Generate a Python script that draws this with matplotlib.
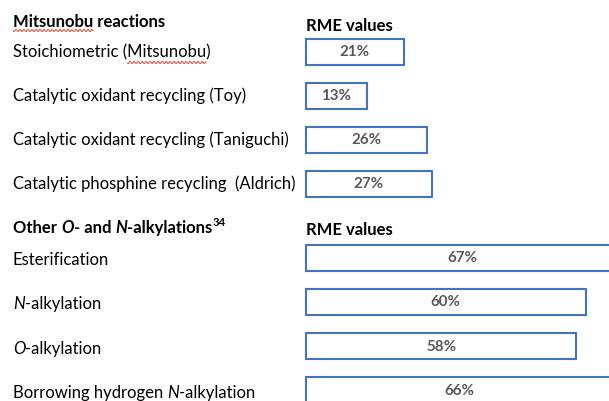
import matplotlib
matplotlib.use("Agg")
import matplotlib.pyplot as plt
import numpy as np

# ---------------- data ----------------
value_header = "RME values"
group1_title = [("Mitsunobu reactions", "normal")]
group1_labels = [
    [("Stoichiometric (Mitsunobu)", "normal")],
    [("Catalytic oxidant recycling (Toy)", "normal")],
    [("Catalytic oxidant recycling (Taniguchi)", "normal")],
    [("Catalytic phosphine recycling  (Aldrich)", "normal")],
]
group1_values = [21, 13, 26, 27]

group2_title = [("Other ", "normal"), ("O", "italic"), ("- and ", "normal"),
                ("N", "italic"), ("-alkylations", "normal"), ("34", "sup")]
group2_labels = [
    [("Esterification", "normal")],
    [("N", "italic"), ("-alkylation", "normal")],
    [("O", "italic"), ("-alkylation", "normal")],
    [("Borrowing hydrogen ", "normal"), ("N", "italic"), ("-alkylation", "normal")],
]
group2_values = [67, 60, 58, 66]

# ---------------- layout ----------------
W, H = 609, 401
FAMILY = ["Lato", "DejaVu Sans"]
EDGE = "#4472C4"
VAL_COLOR = "#595959"
X_TEXT = 13          # px, left of labels
X_BAR0 = 306         # px, where 0 % sits
PX_PER_PCT = 4.66    # px per percent
BAR_H = 26
G1_Y0, G1_STEP = 52, 44.0
G2_Y0, G2_STEP = 257.5, 44.3

fig = plt.figure(figsize=(W / 100, H / 100), dpi=100)
fig.patch.set_facecolor("white")

bax = fig.add_axes([0, 0, 1, 1])
bax.set_xlim(-X_BAR0 / PX_PER_PCT, (W - X_BAR0) / PX_PER_PCT)
bax.set_ylim(H, 0)
bax.axis("off")

tax = fig.add_axes([0, 0, 1, 1])
tax.set_xlim(0, W)
tax.set_ylim(H, 0)
tax.axis("off")

fig.canvas.draw()
R = fig.canvas.get_renderer()


def width(s, **kw):
    t1 = tax.text(0, 0, "|" + s + "|", family=FAMILY, **kw)
    t2 = tax.text(0, 0, "||", family=FAMILY, **kw)
    w = t1.get_window_extent(R).width - t2.get_window_extent(R).width
    t1.remove()
    t2.remove()
    return w


# fit label font size to the reference width of the longest label
ref = width("Catalytic oxidant recycling (Taniguchi)", size=10)
FS = 10 * 276 / ref
refp = width("21%", size=10, weight="bold")
FS_VAL = 10 * 30 / refp


def rich(x, y, pieces, bold=False):
    weight = "bold" if bold else "normal"
    for s, st in pieces:
        if st == "sup":
            kw = dict(size=FS * 0.68, weight=weight, style="normal")
            tax.text(x + 0.5, y - 7, s, ha="left", va="baseline", family=FAMILY, **kw)
        else:
            kw = dict(size=FS, weight=weight, style=st)
            tax.text(x, y, s, ha="left", va="baseline", family=FAMILY, **kw)
        x += width(s, **kw)
    return x


def squiggle(xa, xb, y):
    xs = np.linspace(xa, xb, 200)
    tax.plot(xs, y + 1.0 * np.sin(2 * np.pi * (xs - xa) / 4.0),
             color="#E8412F", lw=0.7, solid_capstyle="butt")


def draw_group(title, labels, values, y0, step, title_base, header_base, lab_off):
    rich(X_TEXT, title_base, title, bold=True)
    tax.text(X_BAR0, header_base, value_header, ha="left", va="baseline",
             family=FAMILY, size=FS, weight="bold")
    ys = [y0 + i * step for i in range(len(values))]
    bax.barh(ys, values, height=BAR_H, left=0, color="white",
             edgecolor=EDGE, linewidth=1.5)
    for lab, v, y in zip(labels, values, ys):
        rich(X_TEXT, y + lab_off, lab)
        bax.text(v / 2, y + 0.5, f"{v}%", ha="center", va="center",
                 family=FAMILY, size=FS_VAL, weight="bold", color=VAL_COLOR)
    return ys


ys1 = draw_group(group1_title, group1_labels, group1_values, G1_Y0, G1_STEP, 27, 31, 5.5)
ys2 = draw_group(group2_title, group2_labels, group2_values, G2_Y0, G2_STEP, 233, 235, 7.5)

# spell-check underlines seen in the reference screenshot
squiggle(X_TEXT, X_TEXT + width("Mitsunobu", size=FS, weight="bold"), 30.5)
a = X_TEXT + width("Stoichiometric (", size=FS)
b = X_TEXT + width("Stoichiometric (Mitsunobu", size=FS)
squiggle(a, b, ys1[0] + 10.5)

fig.savefig("out.png", dpi=100, facecolor="white")
